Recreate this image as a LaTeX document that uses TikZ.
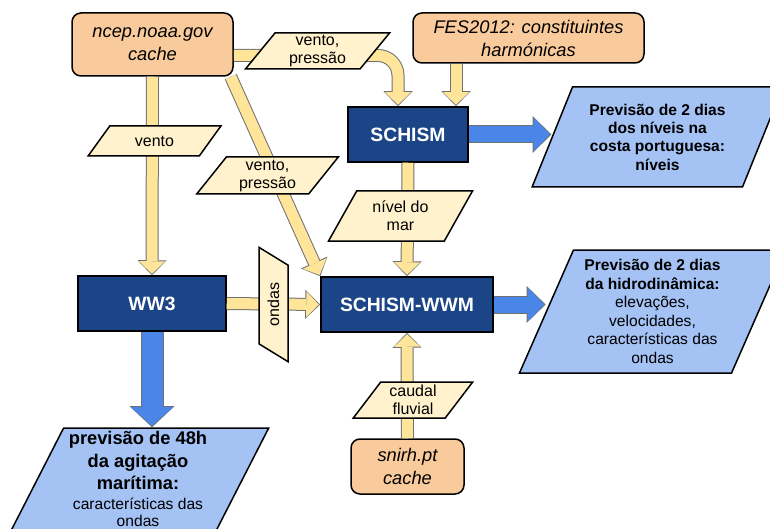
\documentclass[tikz,border=0pt]{standalone}
\usepackage{fontspec}
\setmainfont{Liberation Sans}
\usetikzlibrary{shapes.geometric,arrows.meta}

\definecolor{srcorange}{HTML}{F9CB9C}
\definecolor{modelblue}{HTML}{1C4587}
\definecolor{datayellow}{HTML}{FFF2CC}
\definecolor{flowyellow}{HTML}{FFE599}
\definecolor{flowblue}{HTML}{4A86E8}
\definecolor{resultblue}{HTML}{A4C2F4}
\definecolor{flowedge}{HTML}{707070}

\begin{document}
\begin{tikzpicture}[
        x=1pt, y=-1pt,
        source/.style={rectangle, rounded corners=9pt, draw, line width=1.5pt, fill=srcorange, align=center, inner sep=0pt, font=\fontsize{18.3}{23}\selectfont\itshape},
        model/.style={rectangle, draw, line width=1.5pt, fill=modelblue, text=white, inner sep=0pt, font=\fontsize{19.3}{23}\selectfont\bfseries},
        datum/.style={trapezium, trapezium stretches=true, draw, line width=1.5pt, fill=datayellow, align=center, inner sep=0pt, font=\fontsize{16}{18}\selectfont},
        result/.style={trapezium, trapezium stretches=true, draw, line width=1.5pt, fill=resultblue, align=center, inner sep=0pt},
        lean/.style={trapezium left angle=#1, trapezium right angle=180-#1},
        yflow/.style={preaction={draw=flowedge, line width=13pt, shorten >=0pt, -{Triangle[length=15pt,width=29pt,line width=0pt]}},
            draw=flowyellow, line width=11pt, shorten >=1.4pt, -{Triangle[length=12.6pt,width=26pt,line width=0pt]}},
        bflow/.style={preaction={draw=flowedge, line width=18pt, shorten >=0pt, -{Triangle[length=19pt,width=37pt,line width=0pt]}},
            draw=flowblue, line width=16pt, shorten >=1.4pt, -{Triangle[length=16.6pt,width=34pt,line width=0pt]}},
        bflowwide/.style={preaction={draw=flowedge, line width=23pt, shorten >=0pt, -{Triangle[length=21pt,width=45pt,line width=0pt]}},
            draw=flowblue, line width=21pt, shorten >=1.4pt, -{Triangle[length=18.6pt,width=42pt,line width=0pt]}}
    ]
    \useasboundingbox[fill=white] (0,0) rectangle (770,529);

        % Fontes de dados
        \node[source, minimum width=161pt, minimum height=63pt] (ncep) at (152.5,44.5) {ncep.noaa.gov\\cache};
        \node[source, minimum width=231pt, minimum height=50pt] (fes) at (528.5,38) {FES2012: constituintes\\harmónicas};
        \node[source, minimum width=113pt, minimum height=55pt] (snirh) at (407.5,466.5) {snirh.pt\\cache};

        % Modelos
        \node[model, minimum width=120pt, minimum height=55pt] (schism) at (408,134.5) {SCHISM};
        \node[model, minimum width=172pt, minimum height=55pt] (coupled) at (407,304.5) {SCHISM-WWM};
        \node[model, minimum width=148pt, minimum height=55pt] (ww3) at (152,303.5) {WW3};

        % Resultados
        \node[result, lean=64, minimum width=251pt, minimum height=100pt, font=\fontsize{15.6}{18.3}\selectfont\bfseries] (niveis) at (657.5,137)
            {Previsão de 2 dias\\dos níveis na\\costa portuguesa:\\níveis};
        \node[result, lean=66, minimum width=267pt, minimum height=123pt, font=\fontsize{15.6}{18.6}\selectfont] (hidro) at (652.5,311.5)
            {\textbf{Previsão de 2 dias}\\\textbf{da hidrodinâmica:}\\elevações,\\velocidades,\\características das\\ondas};
        \node[result, lean=63, minimum width=262pt, minimum height=110pt, font=\fontsize{18.3}{22.5}\selectfont\bfseries] (agitacao) at (138,483)
            {previsão de 48h\\da agitação\\marítima:\\[-3pt]{\mdseries\fontsize{15.6}{18.6}\selectfont características das}\\[-5pt]{\mdseries\fontsize{15.6}{18.6}\selectfont ondas}\\[-15pt]};

        % Fluxos
        \draw[yflow] (ncep.south) -- (ww3.north);
        \draw[yflow, rounded corners=20pt] ([yshift=-11pt]ncep.east) -| ([xshift=-10pt]schism.north);
        \draw[yflow] ([xshift=48pt]schism.north |- fes.south) -- ([xshift=48pt]schism.north);
        \draw[yflow] ([xshift=-3pt]ncep.south east) -- (coupled.north west);
        \draw[yflow] (schism.south) -- (coupled.north);
        \draw[yflow] (ww3.east) -- (coupled.west);
        \draw[yflow] (snirh.north) -- (coupled.south);
        \draw[bflow] (schism.east) -- (schism.east -| niveis.west);
        \draw[bflow] (coupled.east) -- (coupled.east -| hidro.west);
        \draw[bflowwide] (ww3.south) -- (ww3.south |- agitacao.north);

        % Etiquetas dos fluxos
        \node[datum, lean=58, minimum width=145pt, minimum height=36pt] (ventopres) at (317.5,51) {vento,\\pressão};
        \node[datum, lean=48, minimum width=133pt, minimum height=30pt] (vento) at (154.5,141) {vento};
        \node[datum, lean=57, minimum width=143pt, minimum height=37pt] (ventopresdiag) at (267.5,175.5) {vento,\\pressão};
        \node[datum, lean=59, minimum width=145pt, minimum height=50pt] (nivelmar) at (400.5,216) {nível do\\mar};
        \node[datum, lean=50, rotate=90, minimum width=115pt, minimum height=29pt] (ondas) at (273.5,304.5) {ondas};
        \node[datum, lean=56, minimum width=120pt, minimum height=36pt] (caudal) at (413,400) {caudal\\fluvial};

    \end{tikzpicture}
\end{document}
